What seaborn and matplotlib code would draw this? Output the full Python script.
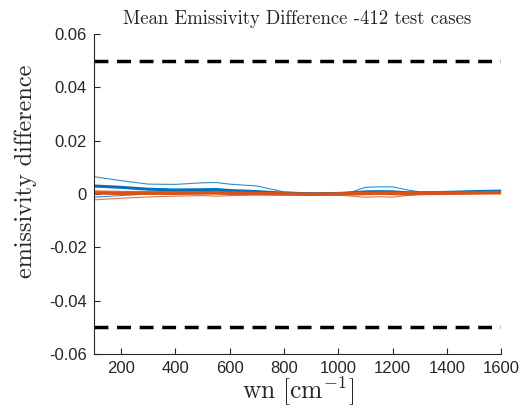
import pandas as pd
import matplotlib
matplotlib.use('Agg')
import matplotlib.pyplot as plt
import seaborn as sns

# wavenumber grid and emissivity differences
wn = [100, 200, 300, 400, 500, 550, 600, 700, 800, 900, 1000, 1050,
      1100, 1150, 1200, 1250, 1300, 1400, 1500, 1600]
blue_hi = [0.0065, 0.0050, 0.0037, 0.0036, 0.0042, 0.0043, 0.0037, 0.0030, 0.0008, 0.0003,
           0.0003, 0.0008, 0.0025, 0.0027, 0.0027, 0.0016, 0.0008, 0.0006, 0.0009, 0.0011]
blue_mean = [0.0030, 0.0025, 0.0018, 0.0015, 0.0016, 0.0017, 0.0013, 0.0009, 0.0003, 0.0001,
             0.0002, 0.0004, 0.0008, 0.0009, 0.0008, 0.0005, 0.0004, 0.0006, 0.0009, 0.0011]
blue_lo = [-0.0012, -0.0006, 0.0000, 0.0004, 0.0005, 0.0005, 0.0003, 0.0000, -0.0002, -0.0001,
           0.0000, 0.0002, 0.0003, 0.0003, 0.0003, 0.0002, 0.0002, 0.0004, 0.0006, 0.0008]
orange_hi = [0.0012, 0.0010, 0.0009, 0.0009, 0.0010, 0.0010, 0.0009, 0.0007, 0.0003, 0.0001,
             0.0002, 0.0004, 0.0006, 0.0007, 0.0006, 0.0004, 0.0004, 0.0005, 0.0006, 0.0007]
orange_mean = [0.0004, 0.0003, 0.0003, 0.0003, 0.0004, 0.0004, 0.0003, 0.0002, 0.0000, -0.0001,
               0.0000, 0.0001, 0.0002, 0.0003, 0.0002, 0.0001, 0.0002, 0.0003, 0.0004, 0.0005]
orange_lo = [-0.0022, -0.0016, -0.0011, -0.0008, -0.0006, -0.0008, -0.0006, -0.0004, -0.0003, -0.0002,
             -0.0004, -0.0008, -0.0012, -0.0010, -0.0012, -0.0006, -0.0002, 0.0000, 0.0002, 0.0003]
limits = [-0.05, 0.05]

sns.set_style('ticks')
plt.rcParams['font.family'] = ['Liberation Sans', 'DejaVu Sans']
plt.rcParams['mathtext.fontset'] = 'cm'

blue = '#0072BD'
orange = '#D95319'

fig = plt.figure(figsize=(5.22, 4.11), dpi=100)
ax = fig.add_axes([0.180, 0.139, 0.780, 0.778])

thin = [(blue_hi, blue), (blue_lo, blue), (orange_hi, orange), (orange_lo, orange)]
for vals, c in thin:
    sns.lineplot(x=wn, y=vals, ax=ax, color=c, linewidth=0.8, alpha=0.8)
sns.lineplot(x=wn, y=blue_mean, ax=ax, color=blue, linewidth=2.2)
sns.lineplot(x=wn, y=orange_mean, ax=ax, color=orange, linewidth=2.6)

for lim in limits:
    ax.axhline(lim, color='black', linestyle='--', linewidth=2.5, dashes=(4, 2.5))

ax.set_xlim(100, 1600)
ax.set_ylim(-0.06, 0.06)
ax.set_xticks(range(200, 1601, 200))
ax.set_yticks([-0.06, -0.04, -0.02, 0, 0.02, 0.04, 0.06])
ax.set_yticklabels(['-0.06', '-0.04', '-0.02', '0', '0.02', '0.04', '0.06'])
ax.tick_params(direction='in', length=4, width=0.8, labelsize=12,
               colors='#262626', pad=5)
for s in ['top', 'right']:
    ax.spines[s].set_visible(False)
for s in ['left', 'bottom']:
    ax.spines[s].set_color('#262626')
    ax.spines[s].set_linewidth(0.8)

ax.set_title('Mean Emissivity Difference -412 test cases', family='cmr10',
             fontsize=13.5, color='#262626', pad=7)
ax.set_ylabel('emissivity difference', family='cmr10', fontsize=17.4,
              color='#262626')
ax.yaxis.set_label_coords(-0.14, 0.57)
ax.set_xlabel(r'$\mathrm{wn}\ [\mathrm{cm}^{-1}]$', fontsize=18.5, color='#262626', labelpad=-1)

fig.savefig('out.png', dpi=100)
